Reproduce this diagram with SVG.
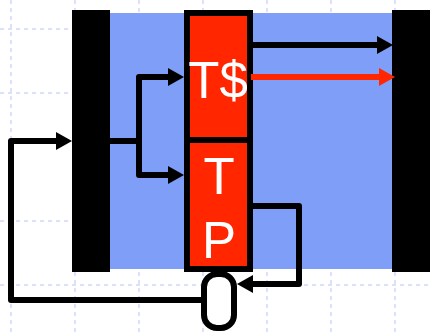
<svg xmlns="http://www.w3.org/2000/svg" width="430" height="332" viewBox="0 0 430 332">
  <style>
    .grid { stroke: #CFD8FA; stroke-width: 1.5; stroke-dasharray: 4 4; fill: none; }
    .bar { fill: #000000; }
    .conn { stroke: #000000; stroke-width: 6; fill: none; stroke-linejoin: round; }
    .red { stroke: #FF2600; }
    .label { font-family: "Liberation Sans", Arial, sans-serif; font-size: 51px; fill: #FFFFFF; text-anchor: middle; }
  </style>
  <defs>
    <marker id="ah" markerUnits="userSpaceOnUse" markerWidth="16" markerHeight="18" refX="2" refY="9" orient="auto">
      <path d="M0,0 L16,9 L0,18 z" fill="#000000"/>
    </marker>
    <marker id="ahr" markerUnits="userSpaceOnUse" markerWidth="16" markerHeight="18" refX="2" refY="9" orient="auto">
      <path d="M0,0 L16,9 L0,18 z" fill="#FF2600"/>
    </marker>
  </defs>
  <rect x="0" y="0" width="430" height="332" fill="#FFFFFF"/>
  <g id="grid">
    <path class="grid" d="M11,0 V332 M75,0 V332 M139,0 V332 M203,0 V332 M267,0 V332 M331,0 V332 M395,0 V332"/>
    <path class="grid" d="M0,29 H430 M0,93 H430 M0,221 H430 M0,285 H430"/>
  </g>
  <g id="datapath">
    <rect x="110" y="13" width="282" height="256" fill="#7F9EF7"/>
  </g>
  <g id="left-bar">
    <rect class="bar" x="72" y="10" width="38" height="262"/>
  </g>
  <g id="right-bar">
    <rect class="bar" x="392" y="10" width="38" height="262"/>
  </g>
  <g id="connectors">
    <path class="conn" d="M204,300 H11 V141 H58" marker-end="url(#ah)"/>
    <path class="conn" d="M110,141 H139 V77 H170" marker-end="url(#ah)"/>
    <path class="conn" d="M139,141 V175 H170" marker-end="url(#ah)"/>
    <path class="conn" d="M253,206 H299 V284 H251" marker-end="url(#ah)"/>
    <path class="conn" d="M253,45 H379" marker-end="url(#ah)"/>
  </g>
  <g id="cache-tp">
    <rect x="187" y="13" width="63" height="256" fill="#FF2600" stroke="#000000" stroke-width="6"/>
    <path d="M184,140 H253" stroke="#000000" stroke-width="6"/>
    <text class="label" x="218" y="98">T$</text>
    <text class="label" x="219" y="194">T</text>
    <text class="label" x="219" y="258">P</text>
  </g>
  <g id="red-arrow">
    <path class="conn red" d="M251,77 H381" marker-end="url(#ahr)"/>
  </g>
  <g id="mux">
    <rect x="204" y="274" width="30" height="54" rx="13" ry="13" fill="#FFFFFF" stroke="#000000" stroke-width="6"/>
  </g>
</svg>
